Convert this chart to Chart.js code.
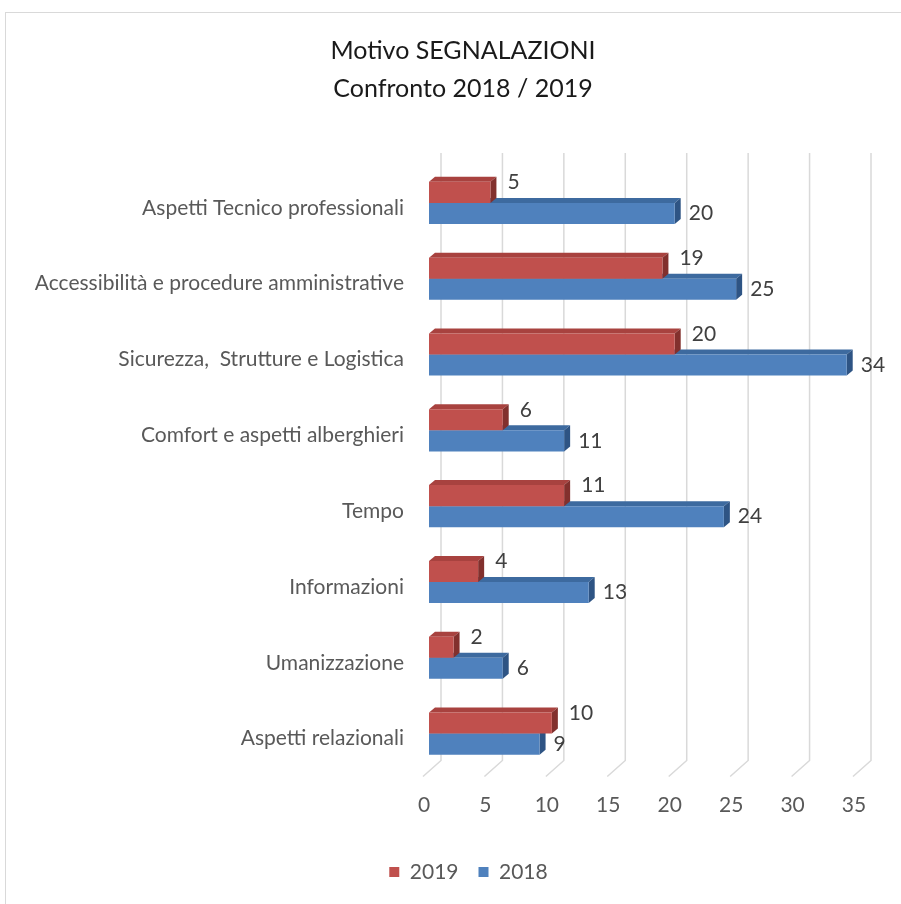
<!DOCTYPE html>
<html>
<head>
<meta charset="utf-8">
<script src="https://cdn.jsdelivr.net/npm/chart.js@4"></script>
<style>
    html, body { margin: 0; padding: 0; background: #fff; overflow: hidden; }
    #box { position: absolute; left: 5px; top: 12px; width: 918px; height: 891px; border: 1px solid #d9d9d9; }
    canvas { display: block; }
</style>
</head>
<body>
<div id="box"><canvas id="grafico" width="918" height="891"></canvas></div>
<script>
/* dati */
var categorie = ["Aspetti Tecnico professionali", "Accessibilità e procedure amministrative",
    "Sicurezza,  Strutture e Logistica", "Comfort e aspetti alberghieri", "Tempo",
    "Informazioni", "Umanizzazione", "Aspetti relazionali"];
var valori2019 = [5, 19, 20, 6, 11, 4, 2, 10];
var valori2018 = [20, 25, 34, 11, 24, 13, 6, 9];
var tickValori = [0, 5, 10, 15, 20, 25, 30, 35];

var FONT = 'Lato';
var DX = 6, DY = 5; // profondita' finta 3D

/*---------------- griglia sul fondo + facce laterali delle barre ----------------*/
var finto3d = {
    id: 'finto3d',
    beforeDatasetsDraw: function (chart) {
        var ctx = chart.ctx;
        var x = chart.scales.x;
        var area = chart.chartArea;
        ctx.save();
        ctx.strokeStyle = '#d9d9d9';
        ctx.lineWidth = 1.5;
        tickValori.forEach(function (v) {
            var px = x.getPixelForValue(v);
            ctx.beginPath();
            ctx.moveTo(px + 12, area.top - 12);
            ctx.lineTo(px + 12, area.bottom - 11);
            ctx.lineTo(px - 6, area.bottom + 5);
            ctx.stroke();
        });
        // prima il 2018 (sotto), poi il 2019
        for (var i = chart.data.datasets.length - 1; i >= 0; i--) {
            var ds = chart.data.datasets[i];
            chart.getDatasetMeta(i).data.forEach(function (bar) {
                var p = bar.getProps(['x', 'y', 'base', 'height'], true);
                var top = p.y - p.height / 2, bot = p.y + p.height / 2;
                ctx.fillStyle = ds.topColor;
                ctx.beginPath();
                ctx.moveTo(p.base, top);
                ctx.lineTo(p.base + DX, top - DY);
                ctx.lineTo(p.x + DX, top - DY);
                ctx.lineTo(p.x, top);
                ctx.closePath();
                ctx.fill();
                ctx.fillStyle = ds.sideColor;
                ctx.beginPath();
                ctx.moveTo(p.x, top);
                ctx.lineTo(p.x + DX, top - DY);
                ctx.lineTo(p.x + DX, bot - DY);
                ctx.lineTo(p.x, bot);
                ctx.closePath();
                ctx.fill();
            });
        }
        ctx.restore();
    }
};

/*---------------- etichette dei valori ----------------*/
var etichette = {
    id: 'etichette',
    afterDatasetsDraw: function (chart) {
        var ctx = chart.ctx;
        ctx.save();
        ctx.font = '21px ' + FONT;
        ctx.fillStyle = '#404040';
        ctx.textBaseline = 'middle';
        ctx.textAlign = 'left';
        chart.data.datasets.forEach(function (ds, i) {
            chart.getDatasetMeta(i).data.forEach(function (bar, j) {
                var p = bar.getProps(['x', 'y'], true);
                var dx = i === 0 ? 17 : 14;
                var dy = i === 0 ? -10 : 0;
                ctx.fillText(String(ds.data[j]), p.x + dx, p.y + dy);
            });
        });
        ctx.restore();
    }
};

/*---------------- titolo e legenda centrati come nell'originale ----------------*/
var centra = {
    id: 'centra',
    afterLayout: function (chart) {
        if (chart.titleBlock) chart.titleBlock.left = 61;
        if (chart.legend) chart.legend.left = 72;
    }
};

new Chart(document.getElementById('grafico'), {
    type: 'bar',
    data: {
        labels: categorie,
        datasets: [
            {label: '2019', data: valori2019, backgroundColor: '#C0504D', topColor: '#A8423F', sideColor: '#82302D'},
            {label: '2018', data: valori2018, backgroundColor: '#4F81BD', topColor: '#3D6A9F', sideColor: '#2E5484'}
        ]
    },
    options: {
        indexAxis: 'y',
        responsive: false,
        animation: false,
        categoryPercentage: 0.555,
        barPercentage: 1,
        layout: {padding: {left: 0, right: 65, top: 0, bottom: 11.5}},
        plugins: {
            title: {
                display: true,
                text: ['Motivo SEGNALAZIONI', 'Confronto 2018 / 2019'],
                color: '#1a1a1a',
                font: {family: FONT, size: 25, weight: 'normal', lineHeight: 1.52},
                padding: {top: 19, bottom: 57}
            },
            legend: {
                position: 'bottom',
                labels: {boxWidth: 10, boxHeight: 10, padding: 20, color: '#595959', font: {family: FONT, size: 21}}
            },
            tooltip: {enabled: false}
        },
        scales: {
            x: {
                min: 0, max: 35,
                ticks: {stepSize: 5, color: '#595959', font: {family: FONT, size: 21}, padding: 21, labelOffset: -5},
                grid: {display: false, drawTicks: false},
                border: {display: false},
                afterFit: function (s) { s.height = 70; }
            },
            y: {
                ticks: {color: '#595959', font: {family: FONT, size: 21}, padding: 25, labelOffset: 5},
                grid: {display: false, drawTicks: false},
                border: {display: false},
                afterFit: function (s) { s.width = 423; }
            }
        }
    },
    plugins: [finto3d, etichette, centra]
});
</script>
</body>
</html>
